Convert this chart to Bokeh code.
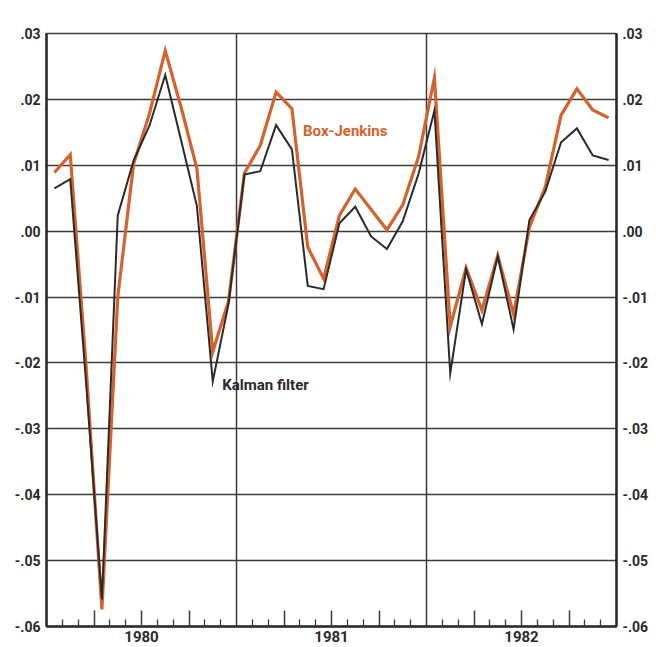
from bokeh.plotting import figure
from bokeh.models import (FixedTicker, LinearAxis, Range1d, Label, ColumnDataSource)
from bokeh.embed import file_html
from bokeh.resources import INLINE

# ---------------- data ----------------
years = ["1980", "1981", "1982"]
months = [f"{y}-{m:02d}" for y in years for m in range(1, 13)]

box_jenkins = [0.0089, 0.0116, -0.0205, -0.0574, -0.0100, 0.0102, 0.0178, 0.0274, 0.0188, 0.0095, -0.0183, -0.0106,
               0.0088, 0.0130, 0.0211, 0.0186, -0.0024, -0.0072, 0.0024, 0.0064, 0.0033, 0.0002, 0.0040, 0.0113,
               0.0233, -0.0145, -0.0056, -0.0120, -0.0037, -0.0126, 0.0006, 0.0067, 0.0176, 0.0216, 0.0184, 0.0172]
kalman = [0.0065, 0.0079, -0.0230, -0.0559, 0.0024, 0.0107, 0.0160, 0.0237, 0.0138, 0.0038, -0.0228, -0.0110,
          0.0086, 0.0091, 0.0161, 0.0124, -0.0083, -0.0088, 0.0012, 0.0037, -0.0008, -0.0027, 0.0015, 0.0087,
          0.0183, -0.0216, -0.0058, -0.0141, -0.0038, -0.0149, 0.0017, 0.0060, 0.0135, 0.0156, 0.0115, 0.0108]

y_ticks = [-0.06, -0.05, -0.04, -0.03, -0.02, -0.01, 0.0, 0.01, 0.02, 0.03]
y_tick_labels = ["-.06", "-.05", "-.04", "-.03", "-.02", "-.01", ".00", ".01", ".02", ".03"]

# month positions (mid-month) on a month-index axis
xpos = [i + 0.5 for i in range(len(months))]
src = ColumnDataSource(dict(x=xpos, bj=box_jenkins, kf=kalman))

FONT = "Roboto"
ORANGE = "#d6622b"
DARK = "#2a2a2a"
GRID = "#3a3a3a"

p = figure(width=660, height=647, output_backend="svg", toolbar_location=None,
           x_range=Range1d(0, 36), y_range=Range1d(-0.06, 0.03),
           min_border_left=46, min_border_right=44, min_border_top=33, min_border_bottom=21,
           background_fill_color="white", border_fill_color="white")
p.outline_line_color = GRID
p.outline_line_width = 1.5

# --- bottom axis: quarter ticks (tall) + month ticks (short), year labels ---
q_ticks = [3, 6, 9, 15, 18, 21, 27, 30, 33]
m_ticks = [m for m in range(1, 36) if m % 3 != 0]
xa = p.xaxis[0]
xa.ticker = FixedTicker(ticks=q_ticks, minor_ticks=m_ticks)
ov = {t: "" for t in q_ticks}
ov.update({6: years[0], 18: years[1], 30: years[2]})
xa.major_label_overrides = ov
xa.major_tick_in = 16
xa.major_tick_out = 0
xa.minor_tick_in = 7
xa.minor_tick_out = 0
xa.major_tick_line_width = 1.5
xa.minor_tick_line_width = 1.3
xa.major_tick_line_color = GRID
xa.minor_tick_line_color = GRID
xa.axis_line_width = 2.5
xa.axis_line_color = DARK
xa.major_label_standoff = 4
xa.major_label_text_font = FONT
xa.major_label_text_font_style = "bold"
xa.major_label_text_font_size = "15px"
xa.major_label_text_color = DARK

# --- left / right y axes ---
ya = p.yaxis[0]
ya2 = LinearAxis()
p.add_layout(ya2, "right")
for ax in (ya, ya2):
    ax.ticker = FixedTicker(ticks=y_ticks)
    ax.major_label_overrides = dict(zip(y_ticks, y_tick_labels))
    ax.major_tick_in = 0
    ax.major_tick_out = 0
    ax.minor_tick_in = 0
    ax.minor_tick_out = 0
    ax.axis_line_width = 2.5
    ax.axis_line_color = DARK
    ax.major_label_standoff = 6
    ax.major_label_text_font = FONT
    ax.major_label_text_font_style = "bold"
    ax.major_label_text_font_size = "14px"
    ax.major_label_text_color = DARK

# --- grid ---
p.ygrid.ticker = FixedTicker(ticks=y_ticks)
p.ygrid.grid_line_color = GRID
p.ygrid.grid_line_width = 1.5
p.xgrid.ticker = FixedTicker(ticks=[12, 24])
p.xgrid.grid_line_color = GRID
p.xgrid.grid_line_width = 1.5

# --- series ---
p.line("x", "bj", source=src, line_color=ORANGE, line_width=3.2, line_join="miter")
p.line("x", "kf", source=src, line_color=DARK, line_width=2, line_join="miter")

# --- annotations ---
p.add_layout(Label(x=16.2, y=0.0152, text="Box-Jenkins", text_color=ORANGE,
                   text_font=FONT, text_font_style="bold", text_font_size="15px",
                   text_baseline="alphabetic", text_align="left"))
p.add_layout(Label(x=11.1, y=-0.0233, text="Kalman filter", text_color=DARK,
                   text_font=FONT, text_font_style="bold", text_font_size="15px",
                   text_baseline="alphabetic", text_align="left"))
p.add_layout(Label(x=0, y=0.03, x_offset=-1, y_offset=9, text="Error", text_color=DARK,
                   text_font=FONT, text_font_style="bold", text_font_size="14px",
                   text_baseline="alphabetic", text_align="right"))
p.add_layout(Label(x=36, y=0.03, x_offset=1, y_offset=9, text="Error", text_color=DARK,
                   text_font=FONT, text_font_style="bold", text_font_size="14px",
                   text_baseline="alphabetic", text_align="left"))

open("out.html", "w").write(file_html(p, INLINE))
